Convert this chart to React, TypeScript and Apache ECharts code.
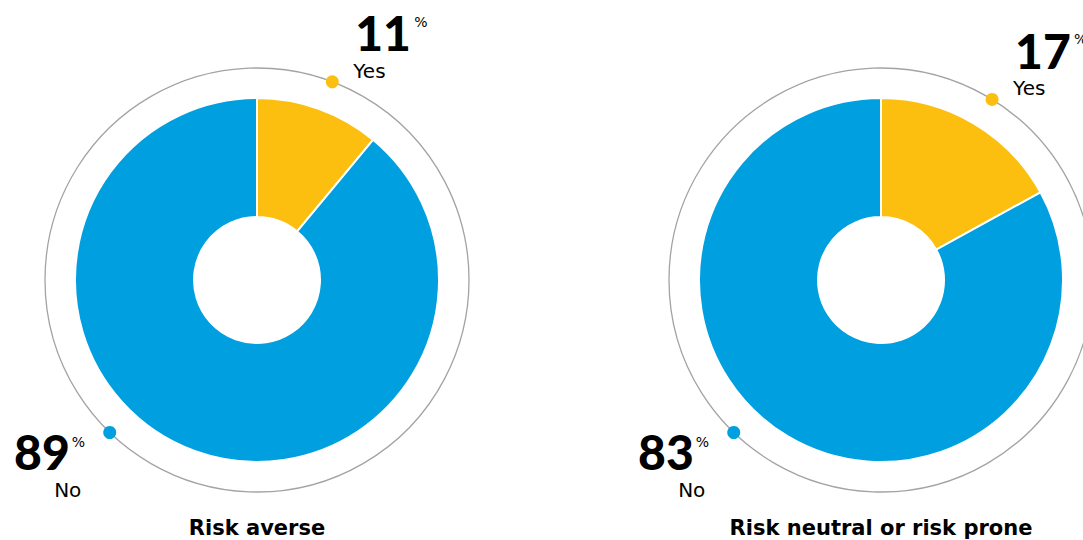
import React, { useEffect, useRef } from "react";
import * as echarts from "echarts";

const panelTitles = ["Risk averse", "Risk neutral or risk prone"];
const categories = ["Yes", "No"];
const yesValues = [11, 17];
const noValues = [89, 83];

const YELLOW = "#FCBF10";
const BLUE = "#009FDF";
const GRAY = "#A3A3A3";
const NUMFONT = "Lato, 'Open Sans', sans-serif";
const FONT = "'DejaVu Sans', sans-serif";

export default function App() {
  const ref = useRef<HTMLDivElement>(null);
  useEffect(() => {
    if (!ref.current) return;
    const chart = echarts.init(ref.current, null, { renderer: "svg" });
    const centers = [
      [257, 280],
      [881, 280],
    ];
    const rOuter = 182;
    const rInner = 63;
    const rRing = 212;
    const blueAngle = 224;

    const series: any[] = [];
    const graphics: any[] = [];

    panelTitles.forEach((title, i) => {
      const [cx, cy] = centers[i];
      series.push({
        type: "pie",
        center: [cx, cy],
        radius: [rInner, rOuter],
        startAngle: 90,
        clockwise: true,
        silent: true,
        label: { show: false },
        labelLine: { show: false },
        itemStyle: { borderColor: "#fff", borderWidth: 2 },
        data: [
          { name: categories[0], value: yesValues[i], itemStyle: { color: YELLOW } },
          { name: categories[1], value: noValues[i], itemStyle: { color: BLUE } },
        ],
      });

      graphics.push({
        type: "circle",
        z: 1,
        shape: { cx, cy, r: rRing },
        style: { fill: "none", stroke: GRAY, lineWidth: 1.3 },
        silent: true,
      });

      const yesAngle = (((yesValues[i] / 2) / 100) * 360 + 1) * (Math.PI / 180);
      const ya = { x: cx + rRing * Math.sin(yesAngle), y: cy - rRing * Math.cos(yesAngle) };
      const ba = blueAngle * (Math.PI / 180);
      const bl = { x: cx + rRing * Math.sin(ba), y: cy - rRing * Math.cos(ba) };

      graphics.push({
        type: "circle",
        z: 5,
        shape: { cx: ya.x, cy: ya.y, r: 6.5 },
        style: { fill: YELLOW },
      });
      graphics.push({
        type: "circle",
        z: 5,
        shape: { cx: bl.x, cy: bl.y, r: 6.5 },
        style: { fill: BLUE },
      });

      // Yes labels
      graphics.push({
        type: "text",
        z: 6,
        x: ya.x + 23,
        y: ya.y - 49,
        style: {
          text: String(yesValues[i]),
          font: `900 48px ${NUMFONT}`,
          fill: "#000",
          textAlign: "left",
          textVerticalAlign: "middle",
        },
      });
      graphics.push({
        type: "text",
        z: 6,
        x: ya.x + 82,
        y: ya.y - 67,
        style: {
          text: "%",
          font: `400 14px ${FONT}`,
          fill: "#000",
          textAlign: "left",
          textVerticalAlign: "top",
        },
      });
      graphics.push({
        type: "text",
        z: 6,
        x: ya.x + 21,
        y: ya.y - 11,
        style: {
          text: categories[0],
          font: `400 20px ${FONT}`,
          fill: "#000",
          textAlign: "left",
          textVerticalAlign: "middle",
        },
      });

      // No labels
      graphics.push({
        type: "text",
        z: 6,
        x: bl.x - 40,
        y: bl.y + 19,
        style: {
          text: String(noValues[i]),
          font: `900 48px ${NUMFONT}`,
          fill: "#000",
          textAlign: "right",
          textVerticalAlign: "middle",
        },
      });
      graphics.push({
        type: "text",
        z: 6,
        x: bl.x - 38,
        y: bl.y + 2,
        style: {
          text: "%",
          font: `400 14px ${FONT}`,
          fill: "#000",
          textAlign: "left",
          textVerticalAlign: "top",
        },
      });
      graphics.push({
        type: "text",
        z: 6,
        x: bl.x - 42,
        y: bl.y + 57,
        style: {
          text: categories[1],
          font: `400 20px ${FONT}`,
          fill: "#000",
          textAlign: "center",
          textVerticalAlign: "middle",
        },
      });

      // Title
      graphics.push({
        type: "text",
        z: 6,
        x: cx,
        y: 528,
        style: {
          text: title,
          font: `700 21px ${FONT}`,
          fill: "#000",
          textAlign: "center",
          textVerticalAlign: "middle",
        },
      });
    });

    chart.setOption({
      animation: false,
      backgroundColor: "#fff",
      series,
      graphic: { elements: graphics },
    });
    return () => chart.dispose();
  }, []);

  return (
    <div
      ref={ref}
      style={{ position: "fixed", left: 0, top: 0, width: 1083, height: 540 }}
    />
  );
}
